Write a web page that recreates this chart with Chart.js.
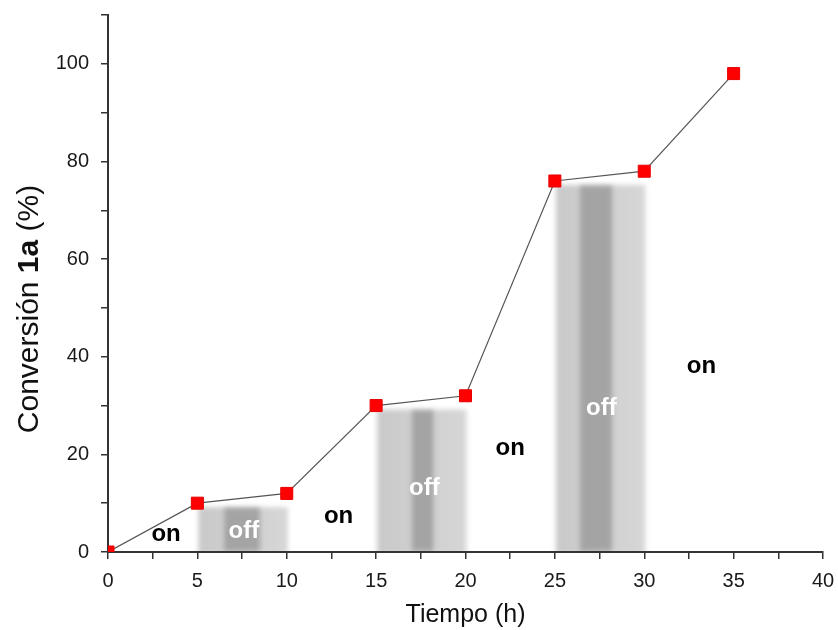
<!DOCTYPE html>
<html>
<head>
<meta charset="utf-8">
<script src="https://cdn.jsdelivr.net/npm/chart.js@4.4.1/dist/chart.umd.min.js"></script>
<style>
  body { margin: 0; background: #fff; }
  #wrap { width: 838px; height: 630px; }
</style>
</head>
<body>
<div id="wrap"><canvas id="chart-conversion"></canvas></div>
<script>
// data
const tiempo = [0, 5, 10, 15, 20, 25, 30, 35];
const conversion = [0, 10, 12, 30, 32, 76, 78, 98];

// "off" periods (light off): shaded zones
const offStart = [5, 15, 25];
const offEnd = [10, 20, 30];
const offTop = [9.6, 29.6, 75.6];
const offCoreStart = [6.5, 17.0, 26.4];
const offCoreEnd = [8.5, 18.2, 28.2];

// annotation anchors (data units)
const onLabelX = [3.25, 12.9, 22.5, 33.2];
const onLabelY = [3.6, 7.3, 21.2, 38.0];
const offLabelX = [7.6, 17.7, 27.6];
const offLabelY = [4.3, 13.0, 29.4];

const FONT = "'Liberation Sans', Arial, sans-serif";

// shaded off zones + on/off labels + y title with bold part
const offZones = {
  id: 'offZones',
  beforeDatasetsDraw(chart) {
    const { ctx, chartArea, scales: { x, y } } = chart;
    ctx.save();
    ctx.beginPath();
    ctx.rect(chartArea.left + 1, chartArea.top, chartArea.width, chartArea.height - 1);
    ctx.clip();
    ctx.filter = 'blur(2.5px)';
    for (let i = 0; i < offStart.length; i++) {
      const x0 = x.getPixelForValue(offStart[i]);
      const x1 = x.getPixelForValue(offEnd[i]);
      const yt = y.getPixelForValue(offTop[i]);
      const yb = y.getPixelForValue(0);
      const grad = ctx.createLinearGradient(x0, 0, x1, 0);
      grad.addColorStop(0, '#c9c9c9');
      grad.addColorStop(1, '#d6d6d6');
      ctx.fillStyle = grad;
      ctx.fillRect(x0 + 1, yt + 2, x1 - x0, yb - yt);
      const c0 = x.getPixelForValue(offCoreStart[i]);
      const c1 = x.getPixelForValue(offCoreEnd[i]);
      ctx.fillStyle = '#a4a4a4';
      ctx.fillRect(c0, yt + 3, c1 - c0, yb - yt - 4);
    }
    ctx.restore();
  },
  afterDatasetsDraw(chart) {
    const { ctx, scales: { x, y } } = chart;
    ctx.save();
    ctx.textAlign = 'center';
    ctx.textBaseline = 'middle';
    ctx.font = 'bold 24px ' + FONT;
    ctx.fillStyle = '#000';
    for (let i = 0; i < onLabelX.length; i++) {
      ctx.fillText('on', x.getPixelForValue(onLabelX[i]), y.getPixelForValue(onLabelY[i]));
    }
    ctx.fillStyle = '#fff';
    for (let i = 0; i < offLabelX.length; i++) {
      ctx.fillText('off', x.getPixelForValue(offLabelX[i]), y.getPixelForValue(offLabelY[i]));
    }
    ctx.restore();
  },
  afterDraw(chart) {
    const { ctx } = chart;
    const parts = [
      ['Conversión ', '30px ' + FONT],
      ['1a', 'bold 30px ' + FONT],
      [' (%)', '30px ' + FONT]
    ];
    ctx.save();
    ctx.translate(30, 309);
    ctx.rotate(-Math.PI / 2);
    ctx.textBaseline = 'middle';
    ctx.textAlign = 'left';
    ctx.fillStyle = '#111';
    let total = 0;
    parts.forEach(p => { ctx.font = p[1]; total += ctx.measureText(p[0]).width; });
    let pos = -total / 2;
    parts.forEach(p => {
      ctx.font = p[1];
      ctx.fillText(p[0], pos, 0);
      pos += ctx.measureText(p[0]).width;
    });
    ctx.restore();
  }
};

const ctx = document.getElementById('chart-conversion').getContext('2d');
const chartConversion = new Chart(ctx, {
  type: 'line',
  data: {
    datasets: [{
      label: 'Conversión 1a',
      data: tiempo.map((t, i) => ({ x: t, y: conversion[i] })),
      borderColor: '#555',
      borderWidth: 1.2,
      backgroundColor: '#ff0000',
      pointBorderColor: '#e80000',
      pointBorderWidth: 1,
      pointStyle: 'rect',
      pointRadius: 8.5,
      pointHoverRadius: 8.5,
      tension: 0,
      clip: 0
    }]
  },
  options: {
    responsive: true,
    maintainAspectRatio: false,
    animation: false,
    layout: { padding: { top: 15, right: 15, left: 0, bottom: 0 } },
    plugins: {
      legend: { display: false },
      tooltip: { enabled: false }
    },
    scales: {
      x: {
        type: 'linear',
        min: 0,
        max: 40,
        afterFit: s => { s.height = 78; s.paddingLeft = 0; s.paddingRight = 0; },
        ticks: {
          stepSize: 2.5,
          autoSkip: false,
          maxRotation: 0,
          padding: 10,
          color: '#1a1a1a',
          font: { family: FONT, size: 20 },
          callback: v => (v % 5 === 0 ? v : '')
        },
        grid: { drawOnChartArea: false, tickLength: 7, color: '#333', lineWidth: 1.5 },
        border: { color: '#333', width: 2 },
        title: {
          display: true,
          text: 'Tiempo (h)',
          color: '#111',
          font: { family: FONT, size: 25 },
          padding: { top: 0, bottom: 0 }
        }
      },
      y: {
        min: 0,
        max: 110,
        afterFit: s => { s.width = 108; s.paddingTop = 0; s.paddingBottom = 0; },
        ticks: {
          stepSize: 10,
          autoSkip: false,
          padding: 12,
          color: '#1a1a1a',
          font: { family: FONT, size: 20 },
          callback: v => (v % 20 === 0 && v <= 100 ? v : '')
        },
        grid: { drawOnChartArea: false, tickLength: 7, color: '#333', lineWidth: 1.5 },
        border: { color: '#333', width: 2 }
      }
    }
  },
  plugins: [offZones]
});
</script>
</body>
</html>
